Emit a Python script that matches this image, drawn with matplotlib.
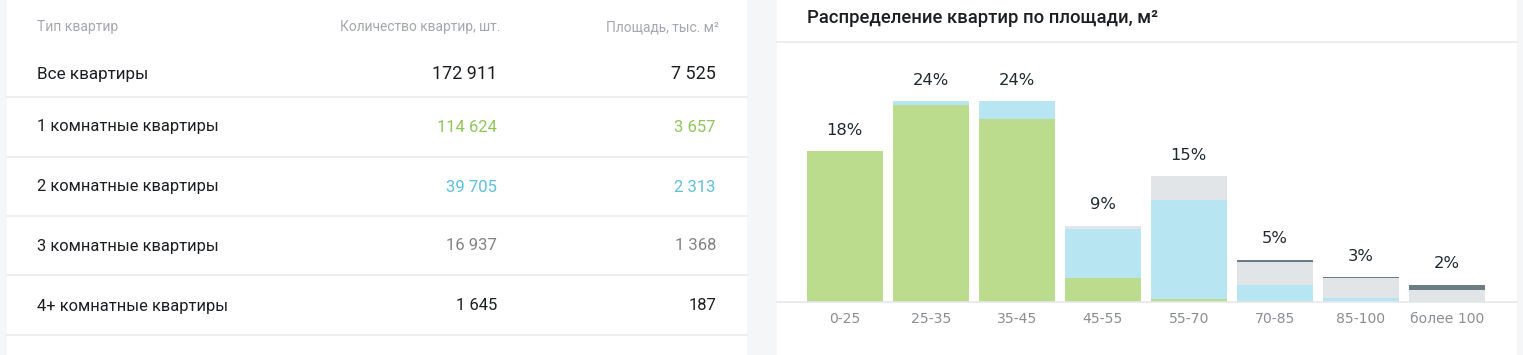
import matplotlib
matplotlib.use("Agg")
import matplotlib.pyplot as plt
from matplotlib.patches import Rectangle
from matplotlib.lines import Line2D

# table data
col_headers = ["Тип квартир", "Количество квартир, шт.", "Площадь, тыс. м²"]
row_names = ["Все квартиры", "1 комнатные квартиры", "2 комнатные квартиры",
             "3 комнатные квартиры", "4+ комнатные квартиры"]
flat_counts = [172911, 114624, 39705, 16937, 1645]
flat_area = [7525, 3657, 2313, 1368, 187]

# chart data (share of all flats, %)
area_bins = ["0-25", "25-35", "35-45", "45-55", "55-70", "70-85", "85-100", "более 100"]
one_room = [18.0, 23.45, 21.8, 2.89, 0.36, 0.15, 0.02, 0.08]
two_room = [0.0, 0.5, 2.15, 5.8, 11.78, 1.87, 0.49, 0.02]
three_room = [0.0, 0.0, 0.0, 0.39, 2.86, 2.74, 2.35, 1.33]
four_room = [0.0, 0.0, 0.0, 0.0, 0.0, 0.28, 0.12, 0.6]
pct_labels = ["18%", "24%", "24%", "9%", "15%", "5%", "3%", "2%"]

W, H = 1523, 355
def fx(x):
    return x / W
def fy(y):
    return 1 - y / H

def fmt(v):
    return f"{v:,}".replace(",", " ")

plt.rcParams['font.family'] = ['Roboto', 'DejaVu Sans']

fig = plt.figure(figsize=(W / 100, H / 100), dpi=100, facecolor="#f5f6f8")

# white panels
fig.patches.append(Rectangle((fx(7), 0), fx(747) - fx(7), 1, transform=fig.transFigure,
                             facecolor="white", edgecolor="none", zorder=-5))
fig.patches.append(Rectangle((fx(777), 0), fx(1517) - fx(777), 1, transform=fig.transFigure,
                             facecolor="white", edgecolor="none", zorder=-5))

# ---- table ----
sep_color = "#e9ebee"
num_colors = ["#1c1f22", "#8fc65a", "#5bbfdf", "#838383", "#1c1f22"]
label_x, col2_x, col3_x = 37, 497, 716

fig.text(fx(label_x), fy(27), col_headers[0], fontsize=10, color="#a4a8ad", va="center")
fig.text(fx(col2_x + 3), fy(27), col_headers[1], fontsize=9.9, color="#a4a8ad", va="center", ha="right")
fig.text(fx(col3_x + 3), fy(27), col_headers[2], fontsize=9.9, color="#a4a8ad", va="center", ha="right")

row_y = [74, 127, 187, 246, 306]
sep_y = [97, 157, 216, 275, 335]
for i, name in enumerate(row_names):
    big = (i == 0)
    fig.text(fx(label_x), fy(row_y[i]), name, fontsize=12.3 if big else 11.9,
             color="#1c1f22", va="center")
    fig.text(fx(col2_x), fy(row_y[i]), fmt(flat_counts[i]), fontsize=13 if big else 12,
             color=num_colors[i], va="center", ha="right")
    fig.text(fx(col3_x), fy(row_y[i]), fmt(flat_area[i]), fontsize=13 if big else 12,
             color=num_colors[i], va="center", ha="right")
for y in sep_y:
    fig.add_artist(Line2D([fx(7), fx(747)], [fy(y), fy(y)], transform=fig.transFigure,
                          color=sep_color, lw=1.2))

# ---- chart ----
fig.text(fx(807), fy(18), "Распределение квартир по площади, м²", fontsize=13.3,
         color="#1c1f22", va="center", fontweight="medium")
fig.add_artist(Line2D([fx(777), fx(1517)], [fy(42), fy(42)], transform=fig.transFigure,
                      color=sep_color, lw=1.2))

ax = fig.add_axes([fx(777), fy(302), fx(1517) - fx(777), fy(60) - fy(302)])
ax.set_facecolor("none")
x = range(len(area_bins))
px_per_pct = 8.38
ax.set_ylim(0, (302 - 60) / px_per_pct)
ax.set_xlim(-0.787, 7.817)

series = [one_room, two_room, three_room, four_room]
colors = ["#bcdc8d", "#b8e5f2", "#e2e5e7", "#6b7c84"]
bottom = [0.0] * len(area_bins)
for vals, c in zip(series, colors):
    ax.bar(x, vals, width=0.884, bottom=bottom, color=c, linewidth=0)
    bottom = [b + v for b, v in zip(bottom, vals)]

for i, lab in enumerate(pct_labels):
    ax.text(i, bottom[i] + 21 / px_per_pct, lab, ha="center", va="center",
            fontsize=11.8, color="#1f2a30", family="DejaVu Sans")

ax.set_xticks(list(x))
ax.set_xticklabels(area_bins, fontsize=10.1, color="#8a8d91", family="DejaVu Sans")
ax.tick_params(axis="x", length=0, pad=7.5)
ax.set_yticks([])
for s in ["top", "left", "right"]:
    ax.spines[s].set_visible(False)
ax.spines["bottom"].set_color("#e6e8ec")
ax.spines["bottom"].set_linewidth(1.2)

fig.savefig("out.png", dpi=100, facecolor=fig.get_facecolor())
